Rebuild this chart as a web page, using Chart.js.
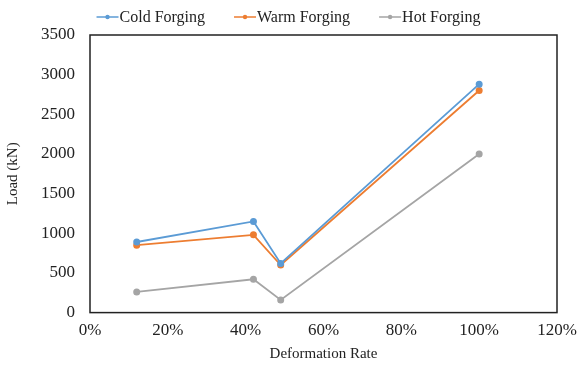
<!DOCTYPE html>
<html><head><meta charset="utf-8">
<script src="https://cdn.jsdelivr.net/npm/chart.js@4"></script>
<style>html,body{margin:0;padding:0;background:#fff}#w{width:581px;height:369px}</style>
</head><body><div id="w"><canvas id="c"></canvas></div>
<script>
const seriesNames = ["Cold Forging", "Warm Forging", "Hot Forging"];
const deformationRate = [0.12, 0.42, 0.49, 1.00];
const coldLoad = [890, 1150, 620, 2880];
const warmLoad = [850, 980, 600, 2800];
const hotLoad = [260, 420, 160, 2000];
const xTicks = [0, 0.2, 0.4, 0.6, 0.8, 1.0, 1.2];
const yTicks = [0, 500, 1000, 1500, 2000, 2500, 3000, 3500];
const colors = ["#5B9BD5", "#ED7D31", "#A5A5A5"];

const FONT = "'Liberation Serif', 'Times New Roman', serif";
const allLoads = [coldLoad, warmLoad, hotLoad];
const datasets = seriesNames.map((n,i)=>({
  label: n,
  data: deformationRate.map((x,j)=>({x, y: allLoads[i][j]})),
  borderColor: colors[i], backgroundColor: colors[i],
  borderWidth: 1.8, pointRadius: 2.6, pointHoverRadius: 2.6, showLine: true,
  pointStyle: 'circle'
}));
const boxPlugin = {id:'box', afterDraw(ch){
  const a = ch.chartArea, g = ch.ctx;
  g.save(); g.strokeStyle = '#222'; g.lineWidth = 1.5;
  g.strokeRect(a.left, a.top, a.right-a.left, a.bottom-a.top); g.restore();
}};
const legendPlugin = {id:'lineLegend', afterDraw(ch){
  const g = ch.ctx; g.save();
  g.font = "16px " + FONT; g.textBaseline = 'middle'; g.textAlign = 'left';
  const iconW = 22, gap = 1, spacing = 29, y = 17;
  const items = ch.data.datasets.map(d => ({d, w: g.measureText(d.label).width}));
  const total = items.reduce((s,it)=>s+iconW+gap+it.w,0) + spacing*(items.length-1);
  let x = ch.width/2 - 2 - total/2;
  items.forEach(it => {
    const c = it.d.borderColor;
    g.strokeStyle = c; g.lineWidth = 1.5;
    g.beginPath(); g.moveTo(x, y); g.lineTo(x+iconW, y); g.stroke();
    g.fillStyle = c; g.beginPath(); g.arc(x+iconW/2, y, 2.2, 0, Math.PI*2); g.fill();
    g.fillStyle = '#222'; g.fillText(it.d.label, x+iconW+gap, y+1);
    x += iconW + gap + it.w + spacing;
  });
  g.restore();
}};
Chart.defaults.font.family = FONT;
Chart.defaults.color = '#222';
new Chart(document.getElementById('c'), {
  type: 'scatter',
  data: {datasets},
  options: {
    responsive: true, maintainAspectRatio: false, animation: false,
    layout: {padding: {left: 4, right: 0, top: 35, bottom: 6}},
    plugins: {tooltip: {enabled: false}, legend: {display: false}},
    scales: {
      x: {type: 'linear', min: 0, max: 1.2,
        afterBuildTicks(s){ s.ticks = xTicks.map(v=>({value:v})); },
        afterFit(s){ s.paddingRight = 24; },
        grid: {display: false, drawTicks: false},
        border: {display: false},
        ticks: {font: {size: 17}, padding: 8, callback: v => Math.round(v*100) + '%'},
        title: {display: true, text: 'Deformation Rate', font: {size: 15}, padding: {top: -4, bottom: 0}}
      },
      y: {min: 0, max: 3500,
        afterBuildTicks(s){ s.ticks = yTicks.map(v=>({value:v})); },
        grid: {display: false, drawTicks: false},
        border: {display: false},
        ticks: {font: {size: 17}, padding: 15, callback: v => String(v)},
        title: {display: true, text: 'Load (kN)', font: {size: 15}, padding: {top: 0, bottom: 4}}
      }
    }
  },
  plugins: [boxPlugin, legendPlugin]
});
</script></body></html>
